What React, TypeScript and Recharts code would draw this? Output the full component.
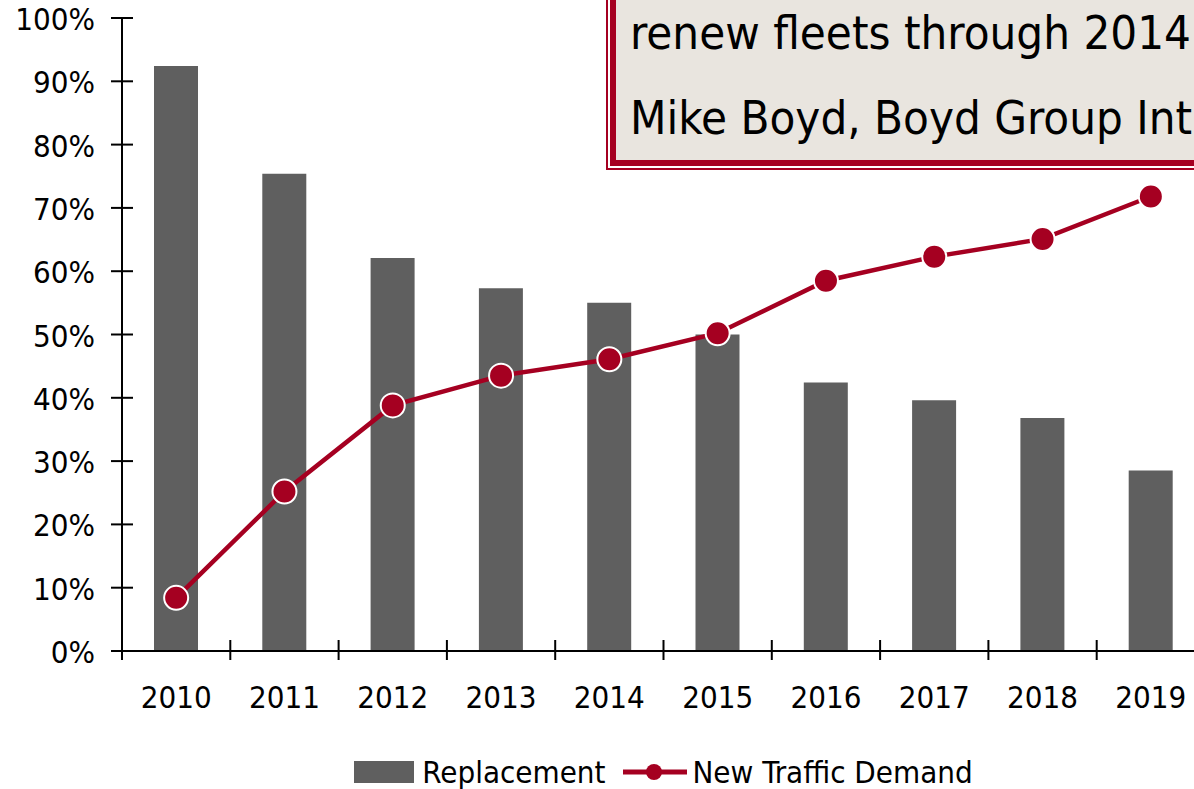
import React from "react";
import { ComposedChart, Bar, Line, XAxis, YAxis, Legend } from "recharts";

const years = ["2010", "2011", "2012", "2013", "2014", "2015", "2016", "2017", "2018", "2019"];
const replacement = [92.4, 75.4, 62.1, 57.3, 55.0, 50.0, 42.4, 39.6, 36.8, 28.5];
const newTrafficDemand = [8.4, 25.2, 38.8, 43.5, 46.1, 50.2, 58.5, 62.3, 65.1, 71.8];
const yTicks = [0, 10, 20, 30, 40, 50, 60, 70, 80, 90, 100];
const noteLines = ["renew fleets through 2014", "Mike Boyd, Boyd Group Int"];

const FONT = '"DejaVu Sans Condensed", "DejaVu Sans", sans-serif';
const RED = "#a50021";
const GREY = "#5f5f5f";

const data = years.map((year, i) => ({
  year,
  replacement: replacement[i],
  newTraffic: newTrafficDemand[i],
}));

// plot spans 122..1205 so each category band is ~108px
const BAND = 1083 / years.length;

function XTick(props: any) {
  const { x, y, payload } = props;
  return (
    <g>
      <line x1={x - BAND / 2} x2={x - BAND / 2} y1={y - 11} y2={y + 9} stroke="#000" strokeWidth={2} />
      <text x={x} y={y + 46} textAnchor="middle" dominantBaseline="central" fontSize={31} fontFamily={FONT} fill="#000">
        {payload.value}
      </text>
    </g>
  );
}

function YTick(props: any) {
  const { x, y, payload } = props;
  return (
    <g>
      <line x1={x - 11} x2={x + 11} y1={y} y2={y} stroke="#000" strokeWidth={2} />
      <text x={x - 27} y={y + 1} textAnchor="end" dominantBaseline="central" fontSize={31} fontFamily={FONT} fill="#000">
        {payload.value}%
      </text>
    </g>
  );
}

function LegendBox() {
  return (
    <div
      style={{
        display: "flex",
        justifyContent: "center",
        alignItems: "center",
        fontSize: 31,
        fontFamily: FONT,
        color: "#000",
        whiteSpace: "nowrap",
        height: 30,
      }}
    >
      <span style={{ width: 60, height: 22, background: GREY, display: "inline-block", marginRight: 8 }} />
      <span>Replacement</span>
      <svg width={64} height={22} style={{ marginLeft: 18, marginRight: 5 }}>
        <line x1={0} x2={64} y1={11} y2={11} stroke={RED} strokeWidth={5} />
        <circle cx={31} cy={11} r={8} fill={RED} />
      </svg>
      <span>New Traffic Demand</span>
    </div>
  );
}

export default function App() {
  return (
    <div
      style={{
        position: "absolute",
        left: 0,
        top: 0,
        width: 1194,
        height: 789,
        overflow: "hidden",
        background: "#fff",
        fontFamily: FONT,
      }}
    >
      <ComposedChart width={1230} height={789} data={data} margin={{ top: 18, right: 25, bottom: 0, left: 0 }}>
        <XAxis
          dataKey="year"
          height={108}
          interval={0}
          tickSize={0}
          tickMargin={0}
          tickLine={false}
          axisLine={{ stroke: "#000", strokeWidth: 2 }}
          tick={<XTick />}
        />
        <YAxis
          width={122}
          domain={[0, 100]}
          ticks={yTicks}
          interval={0}
          tickSize={0}
          tickMargin={0}
          tickLine={false}
          axisLine={{ stroke: "#000", strokeWidth: 2 }}
          tick={<YTick />}
        />
        <Legend
          verticalAlign="bottom"
          height={30}
          content={() => <LegendBox />}
          wrapperStyle={{ left: 122, width: 1083, top: 757 }}
        />
        <Bar dataKey="replacement" name="Replacement" fill={GREY} barSize={44} isAnimationActive={false} />
        <Line
          type="linear"
          dataKey="newTraffic"
          name="New Traffic Demand"
          stroke={RED}
          strokeWidth={4.5}
          dot={{ r: 12, fill: RED, stroke: "#fff", strokeWidth: 2 }}
          isAnimationActive={false}
        />
      </ComposedChart>

      {/* quote box, cut off at the top and right like the slide */}
      <div
        style={{
          position: "absolute",
          left: 606,
          top: -20,
          width: 640,
          height: 190,
          boxSizing: "border-box",
          border: `2px solid ${RED}`,
          padding: 2,
          background: "#fff",
        }}
      >
        <div
          style={{
            position: "relative",
            height: "100%",
            boxSizing: "border-box",
            border: `6px solid ${RED}`,
            background: "#e9e5df",
          }}
        >
          {noteLines.map((t, i) => (
            <div
              key={t}
              style={{
                position: "absolute",
                left: 14,
                top: 19 + i * 85,
                fontSize: 47,
                lineHeight: "47px",
                whiteSpace: "nowrap",
                color: "#000",
              }}
            >
              {t}
            </div>
          ))}
        </div>
      </div>
    </div>
  );
}
